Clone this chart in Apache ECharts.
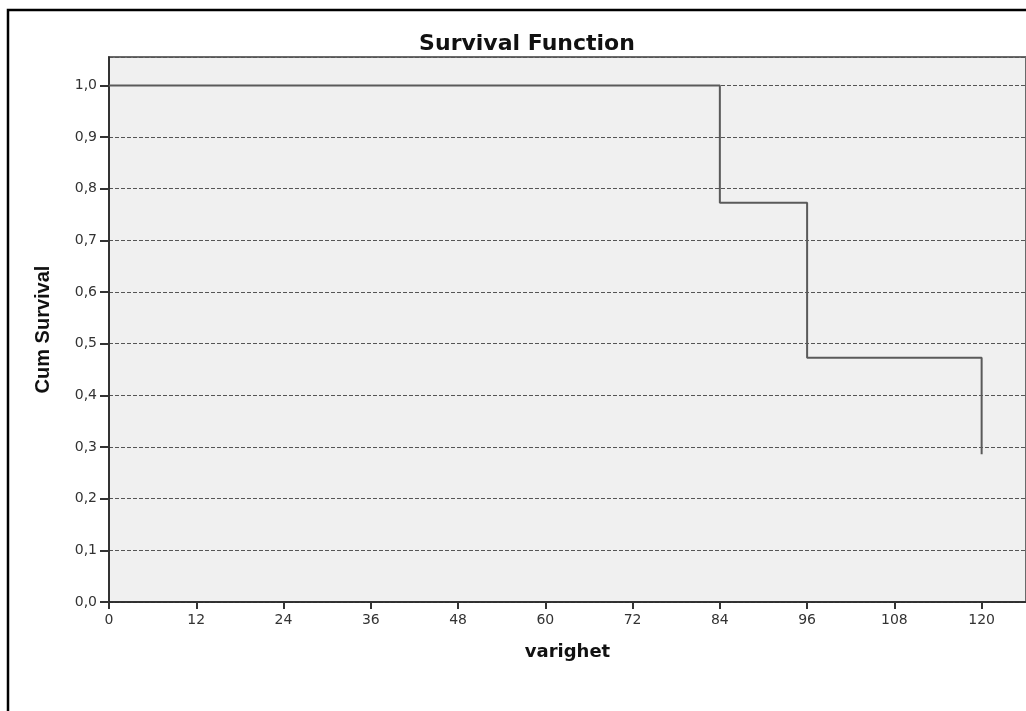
<!DOCTYPE html>
<html>
<head>
<meta charset="utf-8">
<script src="https://cdn.jsdelivr.net/npm/echarts@6/dist/echarts.min.js"></script>
<style>
  html, body { margin: 0; padding: 0; background: #fff; }
  #main { width: 1026px; height: 711px; }
</style>
</head>
<body>
<div id="main"></div>
<script>
// Kaplan-Meier trinn (tid i måneder, kumulativ overlevelse)
var times = [0, 84, 96, 120];
var survival = [1.0, 0.773, 0.473, 0.286];

var xMin = 0, xMax = 126.1, xStep = 12;
var yMin = 0, yMax = 1.055, yStep = 0.1;

var myChart = echarts.init(document.getElementById('main'));

var points = times.map(function (t, i) { return [t, survival[i]]; });

var option = {
  backgroundColor: '#fff',
  animation: false,
  title: {
    text: 'Survival Function',
    left: 522,
    top: 28,
    textAlign: 'center',
    textStyle: { fontFamily: 'DejaVu Sans', fontWeight: 'bold', fontSize: 22, color: '#111' }
  },
  graphic: [{
    type: 'rect',
    shape: { x: 8, y: 10, width: 1100, height: 800 },
    style: { fill: 'none', stroke: '#000', lineWidth: 2.5 },
    z: -1
  }],
  grid: {
    left: 109,
    top: 57,
    bottom: 109,
    right: 0,
    show: true,
    backgroundColor: '#f0f0f0',
    borderColor: '#6a6a6a',
    borderWidth: 2
  },
  xAxis: {
    type: 'value',
    min: xMin,
    max: xMax,
    interval: xStep,
    name: 'varighet',
    nameLocation: 'middle',
    nameGap: 41,
    nameTextStyle: { fontFamily: 'DejaVu Sans', fontWeight: 'bold', fontSize: 18, color: '#111' },
    axisLine: { show: true, onZero: false, lineStyle: { color: '#222', width: 1.5 } },
    axisTick: { show: true, length: 7, lineStyle: { color: '#333', width: 2 } },
    axisLabel: {
      showMaxLabel: false,
      margin: 11,
      fontFamily: 'DejaVu Sans', fontSize: 14, color: '#333'
    },
    splitLine: { show: false }
  },
  yAxis: {
    type: 'value',
    min: yMin,
    max: yMax,
    interval: yStep,
    name: 'Cum Survival',
    nameLocation: 'middle',
    nameGap: 56,
    nameRotate: 90,
    nameTextStyle: { fontFamily: 'Liberation Sans', fontWeight: 'bold', fontSize: 20, color: '#111' },
    axisLine: { show: true, lineStyle: { color: '#222', width: 1.5 } },
    axisTick: { show: true, length: 9, lineStyle: { color: '#333', width: 2 } },
    axisLabel: {
      showMaxLabel: false,
      margin: 12,
      fontFamily: 'DejaVu Sans', fontSize: 14, color: '#333',
      formatter: function (v) { return v.toFixed(1).replace('.', ','); }
    },
    splitLine: { show: true, lineStyle: { color: '#555', width: 1, type: [4, 2] } }
  },
  series: [{
    name: 'Survival',
    type: 'line',
    step: 'end',
    data: points,
    symbol: 'none',
    lineStyle: { color: '#5a5a5a', width: 2 },
    z: 5
  }]
};

myChart.setOption(option);
</script>
</body>
</html>
